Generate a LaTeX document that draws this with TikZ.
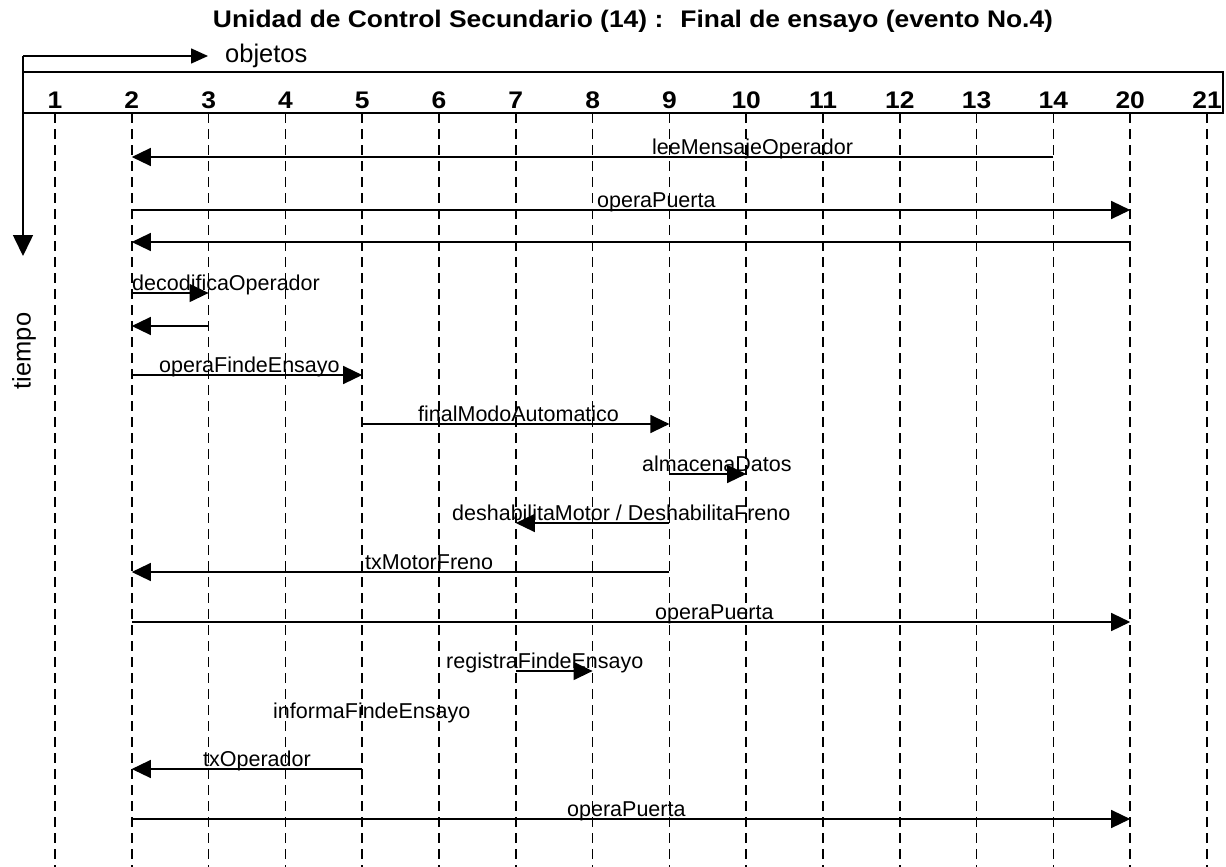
\documentclass[tikz,border=0pt]{standalone}
\usepackage{fontspec}
\setmainfont{Liberation Sans}
\newfontfamily\headfont[FakeStretch=1.1]{Liberation Sans}
\usetikzlibrary{arrows.meta}

\begin{document}
\begin{tikzpicture}[x=1pt,y=-1pt,
  life/.style={line width=1.7pt, dash pattern=on 10pt off 6pt},
  msg/.style={line width=1.3pt, -{Triangle[length=19pt,width=18pt]}},
  axis/.style={line width=1.6pt},
  num/.style={anchor=base, inner sep=0pt, font=\headfont\bfseries\fontsize{24}{28}\selectfont},
  lbl/.style={anchor=base west, inner sep=0pt, font=\fontsize{21.5}{25}\selectfont},
  big/.style={inner sep=0pt, font=\fontsize{25.5}{30}\selectfont},
]
\useasboundingbox (0,0) rectangle (1226,867);

% title
\node[anchor=base, inner sep=0pt, font=\headfont\bfseries\fontsize{24}{28}\selectfont]
  (title) at (633,28) {Unidad de Control Secundario (14) :~ Final de ensayo (evento No.4)};

% axes: objects to the right, time downwards
\coordinate (corner) at (23,56);
\coordinate (objtip) at (208,56);
\coordinate (timetip) at (23,256);
\node[big, anchor=base west] (obj) at (225,63) {objetos};
\node[big, rotate=90] (time) at (24,351) {tiempo};
\draw[axis, -{Triangle[length=17pt,width=15pt]}] (corner) -- (objtip);
\draw[axis, -{Triangle[length=21pt,width=20pt]}] (corner) -- (timetip);

% header box with the object numbers
\draw[axis] (23,72) rectangle (1223,113);
\coordinate (hb) at (0,113);
\coordinate (bot) at (0,867);
\foreach \lab [count=\i from 0] in {1,2,3,4,5,6,7,8,9,10,11,12,13,14,20,21} {
  \node[num] (n\lab) at ({55+76.8*\i},108) {\lab};
  \draw[life] (n\lab |- hb) -- (n\lab |- bot);
}

% messages
\coordinate (m1) at (0,157);
\draw[msg] (n14 |- m1) -- (n2 |- m1);
\node[lbl] (t1) at (652,154) {leeMensajeOperador};

\coordinate (m2) at (0,210);
\draw[msg] (n2 |- m2) -- (n20 |- m2);
\node[lbl] (t2) at (597,207) {operaPuerta};

\coordinate (m3) at (0,242);
\draw[msg] (n20 |- m3) -- (n2 |- m3);

\coordinate (m4) at (0,293);
\draw[msg] (n2 |- m4) -- (n3 |- m4);
\node[lbl] (t4) at (132,290) {decodificaOperador};

\coordinate (m5) at (0,326);
\draw[msg] (n3 |- m5) -- (n2 |- m5);

\coordinate (m6) at (0,375);
\draw[msg] (n2 |- m6) -- (n5 |- m6);
\node[lbl] (t6) at (159,372) {operaFindeEnsayo};

\coordinate (m7) at (0,424);
\draw[msg] (n5 |- m7) -- (n9 |- m7);
\node[lbl] (t7) at (418,421) {finalModoAutomatico};

\coordinate (m8) at (0,474);
\draw[msg] (n9 |- m8) -- (n10 |- m8);
\node[lbl] (t8) at (642,471) {almacenaDatos};

\coordinate (m9) at (0,523);
\draw[msg] (n9 |- m9) -- (n7 |- m9);
\node[lbl] (t9) at (452,520) {deshabilitaMotor / DeshabilitaFreno};

\coordinate (m10) at (0,572);
\draw[msg] (n9 |- m10) -- (n2 |- m10);
\node[lbl] (t10) at (365,569) {txMotorFreno};

\coordinate (m11) at (0,622);
\draw[msg] (n2 |- m11) -- (n20 |- m11);
\node[lbl] (t11) at (655,619) {operaPuerta};

\coordinate (m12) at (0,671);
\draw[msg] (n7 |- m12) -- (n8 |- m12);
\node[lbl] (t12) at (446,668) {registraFindeEnsayo};

\node[lbl] (t13) at (273,718) {informaFindeEnsayo};

\coordinate (m14) at (0,769);
\draw[msg] (n5 |- m14) -- (n2 |- m14);
\node[lbl] (t14) at (203,766) {txOperador};

\coordinate (m15) at (0,819);
\draw[msg] (n2 |- m15) -- (n20 |- m15);
\node[lbl] (t15) at (567,816) {operaPuerta};
\end{tikzpicture}
\end{document}
